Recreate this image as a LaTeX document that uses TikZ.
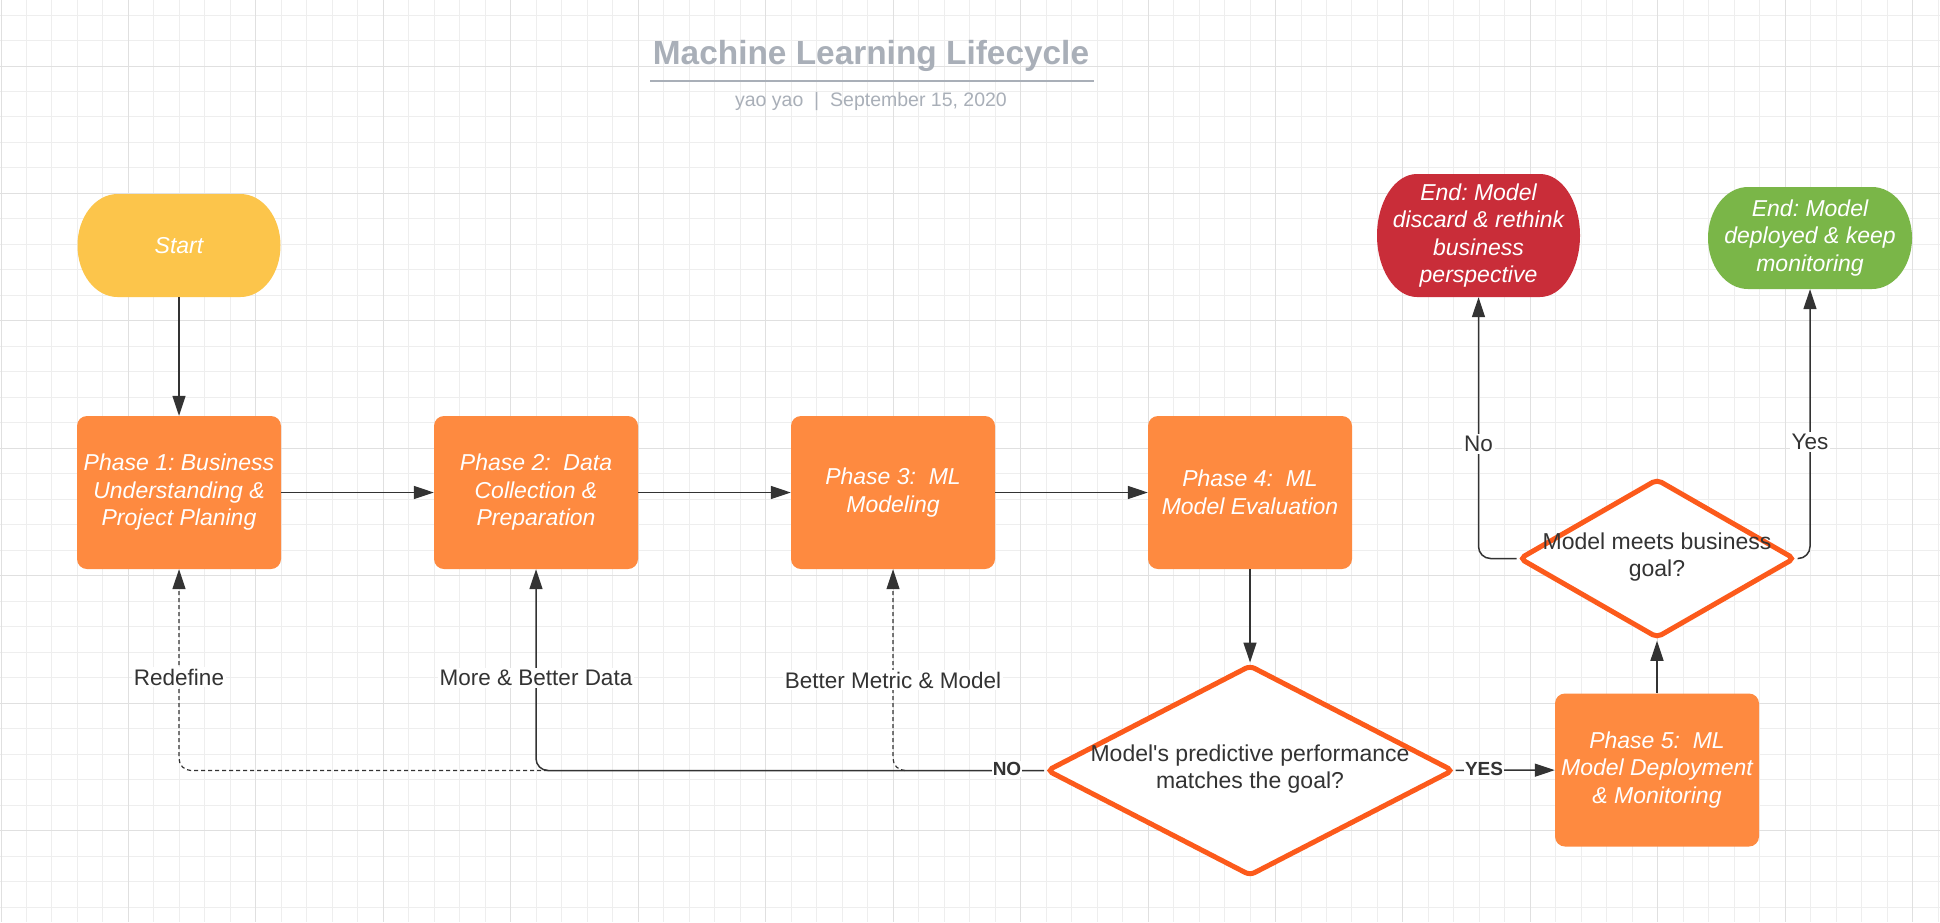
\documentclass[tikz,border=0pt]{standalone}
\usepackage{fontspec}
\setmainfont{Liberation Sans}
\frenchspacing
\usetikzlibrary{shapes.geometric,arrows.meta,calc}
\definecolor{phaseorange}{HTML}{FE8A40}
\definecolor{startyellow}{HTML}{FCC54B}
\definecolor{endred}{HTML}{C92D39}
\definecolor{endgreen}{HTML}{7AB648}
\definecolor{decorange}{HTML}{FC5A1B}
\definecolor{linecol}{HTML}{333333}
\definecolor{textdark}{HTML}{333333}
\definecolor{titlegrey}{HTML}{A9AFB8}
\definecolor{gridminor}{HTML}{EEEEEE}
\definecolor{gridmajor}{HTML}{E0E0E0}
\newcommand\bxfnt{\fontsize{23}{27.5}\selectfont}
\newcommand\lblfnt{\fontsize{22.5}{27}\selectfont}
\newcommand\ynfnt{\fontsize{19}{23}\selectfont}
\newcommand\termbg[5]{%
  \fill[#1] ({#2-#4/2+40},{#3+#5/2}) -- ({#2+#4/2-40},{#3+#5/2})
    arc[start angle=90, end angle=-90, x radius=40, y radius={#5/2}]
    -- ({#2-#4/2+40},{#3-#5/2})
    arc[start angle=270, end angle=90, x radius=40, y radius={#5/2}] -- cycle;}
\tikzset{
  gminor/.style={draw=gridminor, line width=1pt},
  gmajor/.style={draw=gridmajor, line width=1pt},
  phase/.style={rounded corners=10pt, fill=phaseorange, minimum width=204pt,
    minimum height=153pt, text=white, font=\bxfnt\itshape, align=center, inner sep=0pt},
  termtext/.style={text=white, font=\bxfnt\itshape, align=center, inner sep=0pt},
  decision/.style={diamond, draw=decorange, line width=5pt, rounded corners=5pt,
    fill=white, inner sep=0pt},
  dtext/.style={text=textdark, font=\bxfnt, align=center, inner sep=0pt},
  conn/.style={draw=linecol, line width=1.5pt, rounded corners=12pt,
    -{Triangle[length=20pt,width=13pt]}},
  dconn/.style={conn, line width=1.2pt, dash pattern=on 4pt off 3pt},
  lbl/.style={fill=white, text=textdark, font=\lblfnt, inner sep=2pt},
  yn/.style={fill=white, text=textdark, font=\ynfnt\bfseries, inner sep=1pt},
  ttl/.style={text=titlegrey, font=\fontsize{33.4}{40}\selectfont\bfseries, inner sep=0pt},
  subttl/.style={text=titlegrey, font=\fontsize{19.5}{23}\selectfont, inner sep=0pt}
}
\begin{document}
\begin{tikzpicture}[x=1pt,y=1pt]
\useasboundingbox (0,0) rectangle (1940,-922);
\fill[white] (0,0) rectangle (1940,-922);
% grid
\foreach \i in {0,...,76}{\pgfmathsetmacro\xx{1+25.49*\i}\draw[gminor] (\xx,0) -- (\xx,-922);}
\foreach \k in {-2,...,33}{\pgfmathsetmacro\yy{-(66+25.49*\k)}\draw[gminor] (0,\yy) -- (1940,\yy);}
\foreach \i in {0,5,...,75}{\pgfmathsetmacro\xx{1+25.49*\i}\draw[gmajor] (\xx,0) -- (\xx,-922);}
\foreach \k in {0,5,...,30}{\pgfmathsetmacro\yy{-(66+25.49*\k)}\draw[gmajor] (0,\yy) -- (1940,\yy);}
% title
\node[ttl, anchor=base] (title) at (871,-64) {Machine Learning Lifecycle};
\coordinate (ulL) at (650,-81);
\coordinate (ulR) at (1094,-81);
\draw[titlegrey, line width=2pt] (ulL) -- (ulR);
\node[subttl, anchor=base] (sub) at (871,-106) {yao yao\ \ |\ \ September 15, 2020};
% terminator backgrounds
\termbg{startyellow}{179}{-245.5}{203}{103}
\termbg{endred}{1478.5}{-235.5}{203}{123}
\termbg{endgreen}{1810}{-238}{204}{102}
% terminators
\node[termtext, minimum width=203pt, minimum height=103pt] (start) at (179,-245.5) {Start};
\node[termtext, minimum width=203pt, minimum height=123pt] (endr) at (1478.5,-235.5)
  {End: Model\\discard \& rethink\\business\\perspective};
\node[termtext, minimum width=204pt, minimum height=102pt] (endg) at (1810,-238)
  {End: Model\\deployed \& keep\\monitoring};
% phases
\node[phase] (p1) at (179,-492.5) {Phase 1: Business\\Understanding \&\\Project Planing};
\node[phase] (p2) at (536,-492.5) {Phase 2:\ \ Data\\Collection \&\\Preparation};
\node[phase] (p3) at (893,-492.5) {Phase 3:\ \ ML\\Modeling};
\node[phase] (p4) at (1250,-492.5) {Phase 4:\ \ ML\\Model Evaluation};
\node[phase] (p5) at (1657,-770) {Phase 5:\ \ ML\\Model Deployment\\\& Monitoring};
% decisions
\node[decision, minimum width=407pt, minimum height=211pt] (d1) at (1250,-770.5) {};
\node[dtext] (d1t) at (1250,-769) {Model\textquotesingle s predictive performance\\matches the goal?};
\node[decision, minimum width=276pt, minimum height=159.5pt] (d2) at (1657,-558.5) {};
\node[dtext] (d2t) at (1657,-557) {Model meets business\\goal?};
% connectors
\draw[conn] (start) -- (p1);
\draw[conn] (p1) -- (p2);
\draw[conn] (p2) -- (p3);
\draw[conn] (p3) -- (p4);
\draw[conn] (p4) -- (d1);
\draw[conn] (d1) -- (p5);
\draw[conn] (p5) -- (d2);
\draw[conn] (d2.west) -| (endr.south);
\draw[conn] (d2.east) -| (endg.south);
\coordinate (j2) at (p2.south |- d1.west);
\coordinate (j3) at (p3.south |- d1.west);
\draw[dconn] ([xshift=12pt]j2) -| (p1.south);
\draw[dconn] ([xshift=12pt]j3) -| (p3.south);
\draw[conn] (d1.west) -| (p2.south);
% labels
\node[lbl] (lredef) at (179,-677) {Redefine};
\node[lbl] (lmore) at (536,-678) {More \& Better Data};
\node[lbl] (lbetter) at (893,-680) {Better Metric \& Model};
\node[lbl] (lno) at (1478.5,-444) {No};
\node[lbl] (lyes) at (1810,-442) {Yes};
\node[yn] (lNO) at (1007,-769) {NO};
\node[yn] (lYES) at (1484,-769) {YES};
\end{tikzpicture}
\end{document}
